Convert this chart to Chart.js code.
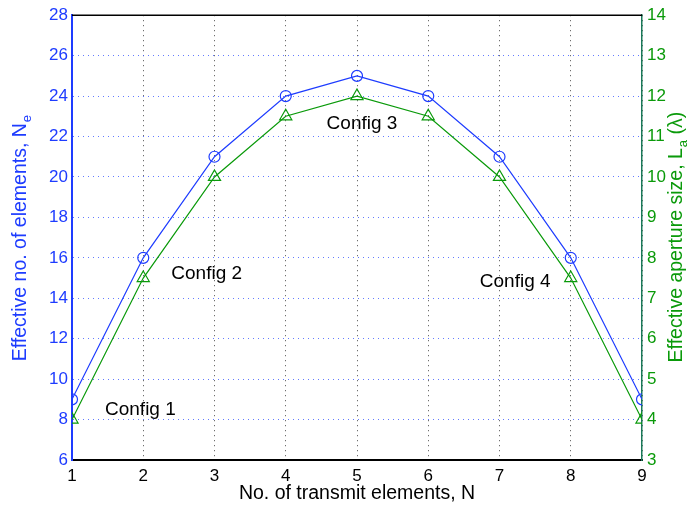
<!DOCTYPE html>
<html><head><meta charset="utf-8">
<script src="https://cdn.jsdelivr.net/npm/chart.js@4/dist/chart.umd.min.js"></script>
<style>html,body{margin:0;padding:0;background:#fff}#w{width:689px;height:514px}</style>
</head><body><div id="w"><canvas id="c"></canvas></div>
<script>
const transmitElements = [1,2,3,4,5,6,7,8,9];
const effectiveElements = [9,16,21,24,25,24,21,16,9];
const apertureSize = [4,7.5,10,11.5,12,11.5,10,7.5,4];
const leftTicks = [6,8,10,12,14,16,18,20,22,24,26,28];
const rightTicks = [3,4,5,6,7,8,9,10,11,12,13,14];
const configLabels = ["Config 1","Config 2","Config 3","Config 4"];
const configX = [1.96,2.89,5.07,7.22];
const configY = [8.5,15.2,22.65,14.8];

const BLUE = '#1e3cff', GREEN = '#0a9a0a';
const FONT = '"Liberation Sans", Arial, Helvetica, sans-serif';
const LBL = 19.5;

const overlay = {
  id:'overlay',
  afterDraw(chart){
    const {ctx, chartArea:a, scales} = chart;
    ctx.save();
    ctx.strokeStyle='#000'; ctx.lineWidth=1.5;
    ctx.beginPath(); ctx.moveTo(a.left,a.top); ctx.lineTo(a.right,a.top); ctx.stroke();
    ctx.fillStyle='#000'; ctx.font='19px '+FONT; ctx.textAlign='center'; ctx.textBaseline='middle';
    configLabels.forEach((t,i)=>{
      ctx.fillText(t, scales.x.getPixelForValue(configX[i]), scales.y.getPixelForValue(configY[i]));
    });
    ctx.font=LBL+'px '+FONT;
    ctx.fillText('No. of transmit elements, N',(a.left+a.right)/2,494);
    ctx.save();
    ctx.translate(21,(a.top+a.bottom)/2+1); ctx.rotate(-Math.PI/2);
    ctx.fillStyle=BLUE; ctx.font=LBL+'px '+FONT; ctx.textBaseline='middle';
    const t1='Effective no. of elements, N';
    const w1=ctx.measureText(t1).width; ctx.font='13px '+FONT; const ws=ctx.measureText('e').width;
    let x0=-(w1+ws)/2;
    ctx.font=LBL+'px '+FONT; ctx.textAlign='left'; ctx.fillText(t1,x0,0);
    ctx.font='13px '+FONT; ctx.fillText('e',x0+w1+1,6);
    ctx.restore();
    ctx.save();
    ctx.translate(677,(a.top+a.bottom)/2); ctx.rotate(-Math.PI/2);
    ctx.fillStyle=GREEN; ctx.textBaseline='middle'; ctx.textAlign='left';
    ctx.font=LBL+'px '+FONT;
    const p1='Effective aperture size, L', p3=' (λ)';
    const wp1=ctx.measureText(p1).width, wp3=ctx.measureText(p3).width;
    ctx.font='13px '+FONT; const wa=ctx.measureText('a').width;
    x0=-(wp1+wa+wp3)/2;
    ctx.font=LBL+'px '+FONT; ctx.fillText(p1,x0,0);
    ctx.font='13px '+FONT; ctx.fillText('a',x0+wp1+1,6);
    ctx.font=LBL+'px '+FONT; ctx.fillText(p3,x0+wp1+wa+1,0);
    ctx.restore();
    ctx.restore();
  }
};

new Chart(document.getElementById('c'),{
  type:'line',
  data:{labels:transmitElements,datasets:[
    {data:effectiveElements,yAxisID:'y',borderColor:BLUE,borderWidth:1.2,pointStyle:'circle',pointRadius:5.5,pointBorderColor:BLUE,pointBackgroundColor:'rgba(0,0,0,0)',pointBorderWidth:1.2,fill:false,tension:0},
    {data:apertureSize,yAxisID:'y1',borderColor:GREEN,borderWidth:1.2,pointStyle:'triangle',pointRadius:7,pointBorderColor:GREEN,pointBackgroundColor:'rgba(0,0,0,0)',pointBorderWidth:1.2,fill:false,tension:0}
  ]},
  plugins:[overlay],
  options:{
    responsive:true,maintainAspectRatio:false,animation:false,
    layout:{padding:{top:10,left:0,right:0,bottom:0}},
    plugins:{legend:{display:false},tooltip:{enabled:false}},
    scales:{
      x:{type:'linear',min:1,max:9,
        afterFit(s){s.height=54;},
        afterBuildTicks(s){s.ticks=transmitElements.map(v=>({value:v}));},
        ticks:{color:'#000',font:{family:FONT,size:17},padding:6,maxRotation:0},
        grid:{color:'rgba(0,0,0,0.7)',lineWidth:1,drawTicks:false},
        border:{color:'#000',width:2,dash:[1,4]}
      },
      y:{position:'left',min:6,max:28,
        afterFit(s){s.width=72;},
        afterBuildTicks(s){s.ticks=leftTicks.map(v=>({value:v}));},
        ticks:{color:BLUE,font:{family:FONT,size:17},padding:4},
        grid:{color:'rgba(60,90,255,0.8)',lineWidth:1,drawTicks:false},
        border:{color:BLUE,width:2,dash:[1,4]}
      },
      y1:{position:'right',min:3,max:14,
        afterFit(s){s.width=47;},
        afterBuildTicks(s){s.ticks=rightTicks.map(v=>({value:v}));},
        ticks:{color:GREEN,font:{family:FONT,size:17},padding:5},
        grid:{display:false,drawTicks:false},
        border:{color:'#1a7a5a',width:1.5}
      }
    }
  }
});
</script></body></html>
